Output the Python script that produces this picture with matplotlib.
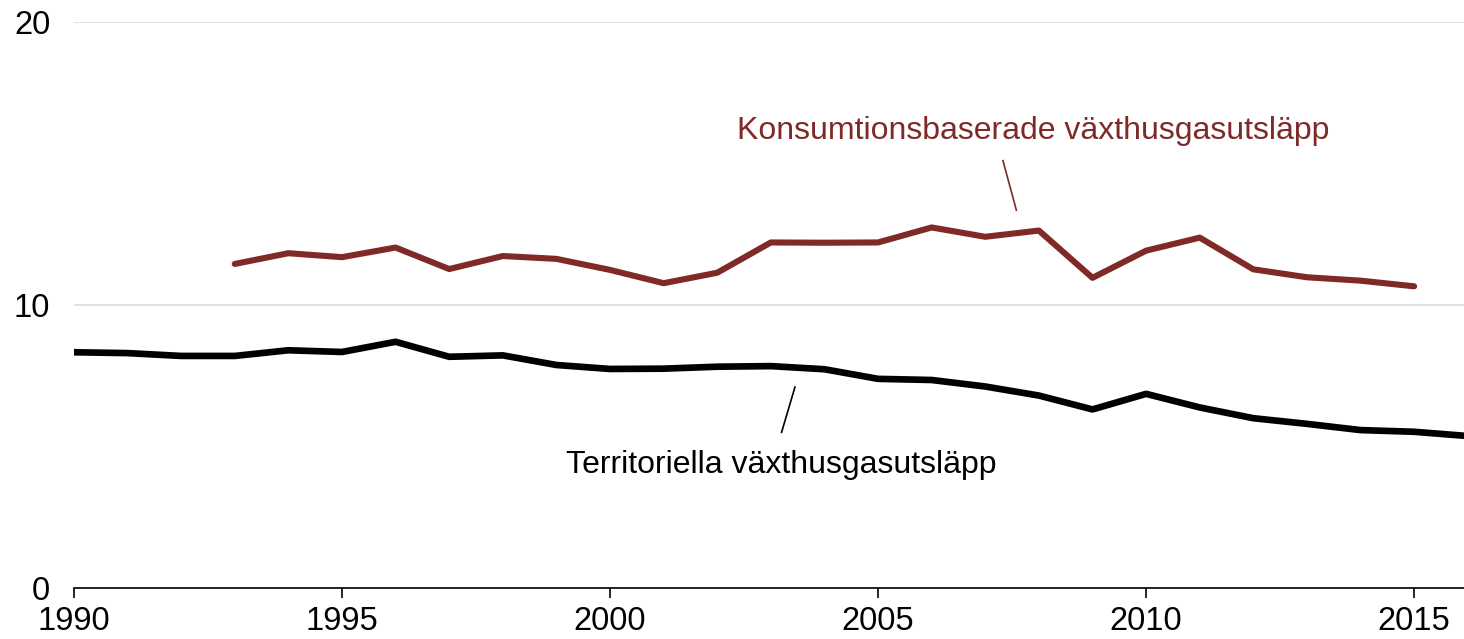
import matplotlib
matplotlib.use("Agg")
import matplotlib.pyplot as plt

plt.rcParams['font.family'] = ['Liberation Sans', 'DejaVu Sans']

years_terr = list(range(1990, 2017))
territoriella = [8.33, 8.30, 8.20, 8.20, 8.40, 8.34, 8.70, 8.17, 8.22, 7.88,
                 7.74, 7.75, 7.82, 7.84, 7.73, 7.39, 7.35, 7.12, 6.80, 6.31,
                 6.86, 6.38, 6.00, 5.80, 5.58, 5.52, 5.37]

years_kons = list(range(1993, 2016))
konsumtion = [11.45, 11.83, 11.69, 12.03, 11.27, 11.73, 11.63, 11.24, 10.77, 11.14,
              12.21, 12.20, 12.21, 12.74, 12.41, 12.63, 10.96, 11.92, 12.38, 11.26,
              10.98, 10.86, 10.66]

red = '#7F2A27'


def plot():
    fig = plt.figure(figsize=(14.64, 6.39), dpi=100)
    ax = fig.add_axes([0.0505, 0.0798, 0.9495, 0.8858])

    ax.plot(years_terr, territoriella, color='black', lw=4.8, solid_capstyle='round', zorder=3)
    ax.plot(years_kons, konsumtion, color=red, lw=4.4, solid_capstyle='round', zorder=3)

    ax.set_xlim(1990, 2015.93)
    ax.set_ylim(0, 20)
    ax.set_xticks(range(1990, 2016, 5))
    ax.set_yticks([0, 10, 20])
    ax.yaxis.grid(True, color='#d9d9d9', lw=1.2)
    ax.set_axisbelow(True)

    for s in ['top', 'right', 'left']:
        ax.spines[s].set_visible(False)
    ax.spines['bottom'].set_linewidth(1.2)
    ax.tick_params(axis='x', length=7, width=1.2, labelsize=23.5, pad=6)
    ax.tick_params(axis='y', length=0, labelsize=23.5, pad=17)

    # annotations
    ax.text(2007.9, 16.15, 'Konsumtionsbaserade växthusgasutsläpp', color=red,
            fontsize=23, ha='center', va='center')
    ax.plot([2007.33, 2007.58], [15.1, 13.35], color=red, lw=1.2)
    ax.text(2003.2, 4.35, 'Territoriella växthusgasutsläpp', color='black',
            fontsize=23, ha='center', va='center')
    ax.plot([2003.45, 2003.2], [7.1, 5.5], color='black', lw=1.2)

    fig.savefig('out.png', dpi=100)


plot()
